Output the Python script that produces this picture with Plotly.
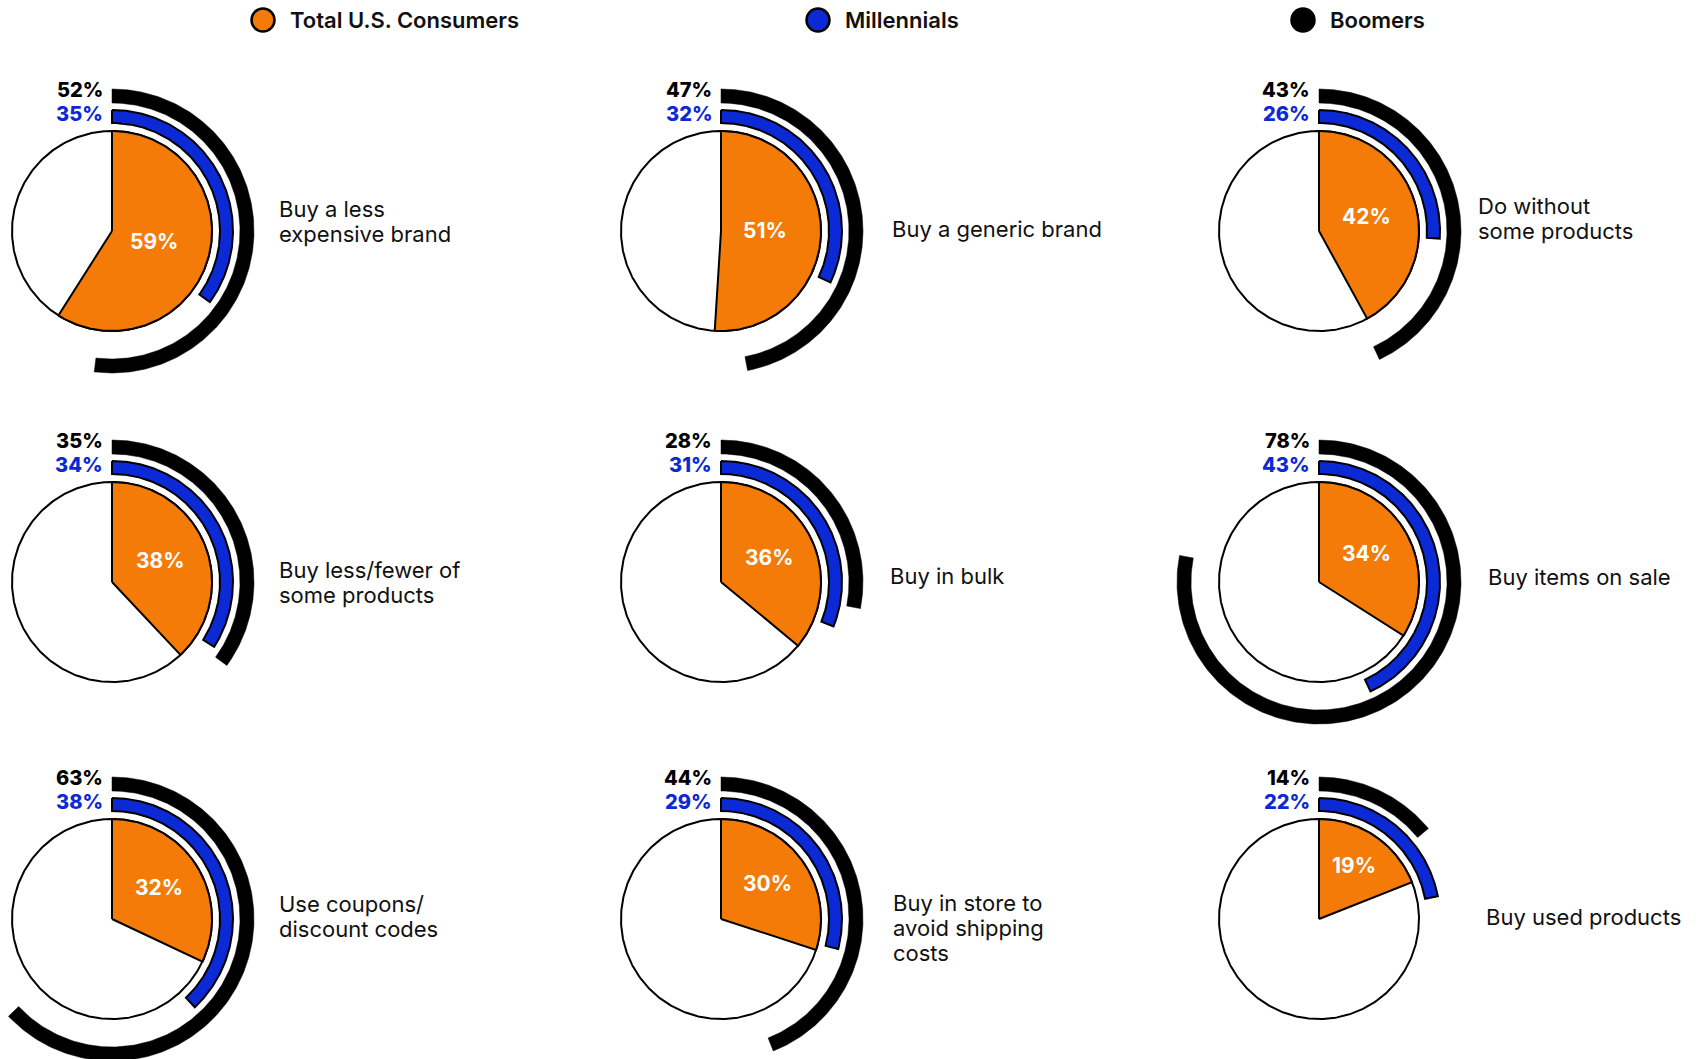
import numpy as np
import plotly.graph_objects as go

# ---------------- data ----------------
categories = [
    "Buy a less<br>expensive brand",
    "Buy a generic brand",
    "Do without<br>some products",
    "Buy less/fewer of<br>some products",
    "Buy in bulk",
    "Buy items on sale",
    "Use coupons/<br>discount codes",
    "Buy in store to<br>avoid shipping<br>costs",
    "Buy used products",
]
total_us = [59, 51, 42, 38, 36, 34, 32, 30, 19]
millennials = [35, 32, 26, 34, 31, 43, 38, 29, 22]
boomers = [52, 47, 43, 35, 28, 78, 63, 44, 14]
series_names = ["Total U.S. Consumers", "Millennials", "Boomers"]

# ---------------- layout / style ----------------
W, H = 1702, 1059
COL_X = [112, 721, 1319]
ROW_Y = [231, 582, 919]
LABEL_DX = [165, 169, 157, 165, 167, 167, 165, 170, 165]
LABEL_DY = [-10, -2, -13, 0, -6, -5, -3, 9, -2]
LINE_GAP = 25
LEGEND_X = [263, 818, 1303]
LEGEND_Y = 20

ORANGE = "#F47B08"
BLUE = "#0B2AD6"
BLACK = "#000000"
FONT = "Inter, 'Open Sans', sans-serif"

R_PIE = 100
R_BLUE = (108, 121)
R_BLACK = (128, 142)


def ring_sector(cx, cy, r0, r1, frac, n=240):
    th = np.linspace(0, 2 * np.pi * frac, n)
    xo = cx + r1 * np.sin(th)
    yo = cy - r1 * np.cos(th)
    if r0 == 0:
        x = np.concatenate([[cx], xo, [cx]])
        y = np.concatenate([[cy], yo, [cy]])
    else:
        xi = cx + r0 * np.sin(th[::-1])
        yi = cy - r0 * np.cos(th[::-1])
        x = np.concatenate([xo, xi, [xo[0]]])
        y = np.concatenate([yo, yi, [yo[0]]])
    return x, y


fig = go.Figure()
annotations = []

for i, cat in enumerate(categories):
    cx = COL_X[i % 3]
    cy = ROW_Y[i // 3]

    # full white pie
    th = np.linspace(0, 2 * np.pi, 400)
    fig.add_trace(go.Scatter(
        x=cx + R_PIE * np.sin(th), y=cy - R_PIE * np.cos(th),
        mode="lines", fill="toself", fillcolor="white",
        line=dict(color=BLACK, width=2), hoverinfo="skip"))

    # orange wedge (total)
    p = total_us[i] / 100
    x, y = ring_sector(cx, cy, 0, R_PIE, p)
    fig.add_trace(go.Scatter(
        x=x, y=y, mode="lines", fill="toself", fillcolor=ORANGE,
        line=dict(color=BLACK, width=2), hoverinfo="skip",
        name=series_names[0]))

    # blue ring (millennials)
    x, y = ring_sector(cx, cy, R_BLUE[0], R_BLUE[1], millennials[i] / 100)
    fig.add_trace(go.Scatter(
        x=x, y=y, mode="lines", fill="toself", fillcolor=BLUE,
        line=dict(color=BLACK, width=2), hoverinfo="skip",
        name=series_names[1]))

    # black ring (boomers)
    x, y = ring_sector(cx, cy, R_BLACK[0], R_BLACK[1], boomers[i] / 100)
    fig.add_trace(go.Scatter(
        x=x, y=y, mode="lines", fill="toself", fillcolor=BLACK,
        line=dict(color=BLACK, width=0.5), hoverinfo="skip",
        name=series_names[2]))

    # inside label (centroid-ish)
    a = np.pi * p
    rc = max(44, (2 * R_PIE / 3) * np.sin(a) / a)
    annotations.append(dict(
        x=cx + rc * np.sin(a), y=cy - rc * np.cos(a) - 2,
        text=f"{total_us[i]}%", showarrow=False,
        font=dict(family=FONT, size=21, color="white", weight=700),
        xanchor="center", yanchor="middle"))

    # boomers / millennials labels
    annotations.append(dict(
        x=cx - 7, y=cy - 141, text=f"{boomers[i]}%", showarrow=False,
        font=dict(family=FONT, size=20, color=BLACK, weight=800),
        xanchor="right", yanchor="middle"))
    annotations.append(dict(
        x=cx - 7, y=cy - 117, text=f"{millennials[i]}%", showarrow=False,
        font=dict(family=FONT, size=20, color=BLUE, weight=800),
        xanchor="right", yanchor="middle"))

    # category label (one annotation per line for tight line spacing)
    lines = cat.split("<br>")
    n = len(lines)
    for k, ln in enumerate(lines):
        annotations.append(dict(
            x=cx + LABEL_DX[i],
            y=cy + LABEL_DY[i] + (k - (n - 1) / 2) * LINE_GAP,
            text=ln, showarrow=False,
            font=dict(family=FONT, size=22, color="#111111"),
            xanchor="left", yanchor="middle", align="left"))

# legend
fig.add_trace(go.Scatter(
    x=LEGEND_X, y=[LEGEND_Y] * 3, mode="markers",
    marker=dict(size=23, color=[ORANGE, BLUE, BLACK],
                line=dict(color=BLACK, width=2.5)),
    hoverinfo="skip"))
for lx, name in zip(LEGEND_X, series_names):
    annotations.append(dict(
        x=lx + 25, y=LEGEND_Y, text=name, showarrow=False,
        font=dict(family=FONT, size=22, color="#111111", weight=600),
        xanchor="left", yanchor="middle"))

fig.update_layout(
    width=W, height=H,
    margin=dict(l=0, r=0, t=0, b=0),
    paper_bgcolor="white", plot_bgcolor="white",
    showlegend=False,
    xaxis=dict(range=[0, W], visible=False, fixedrange=True),
    yaxis=dict(range=[H, 0], visible=False, fixedrange=True),
    annotations=annotations,
)

fig.write_html("out.html")
